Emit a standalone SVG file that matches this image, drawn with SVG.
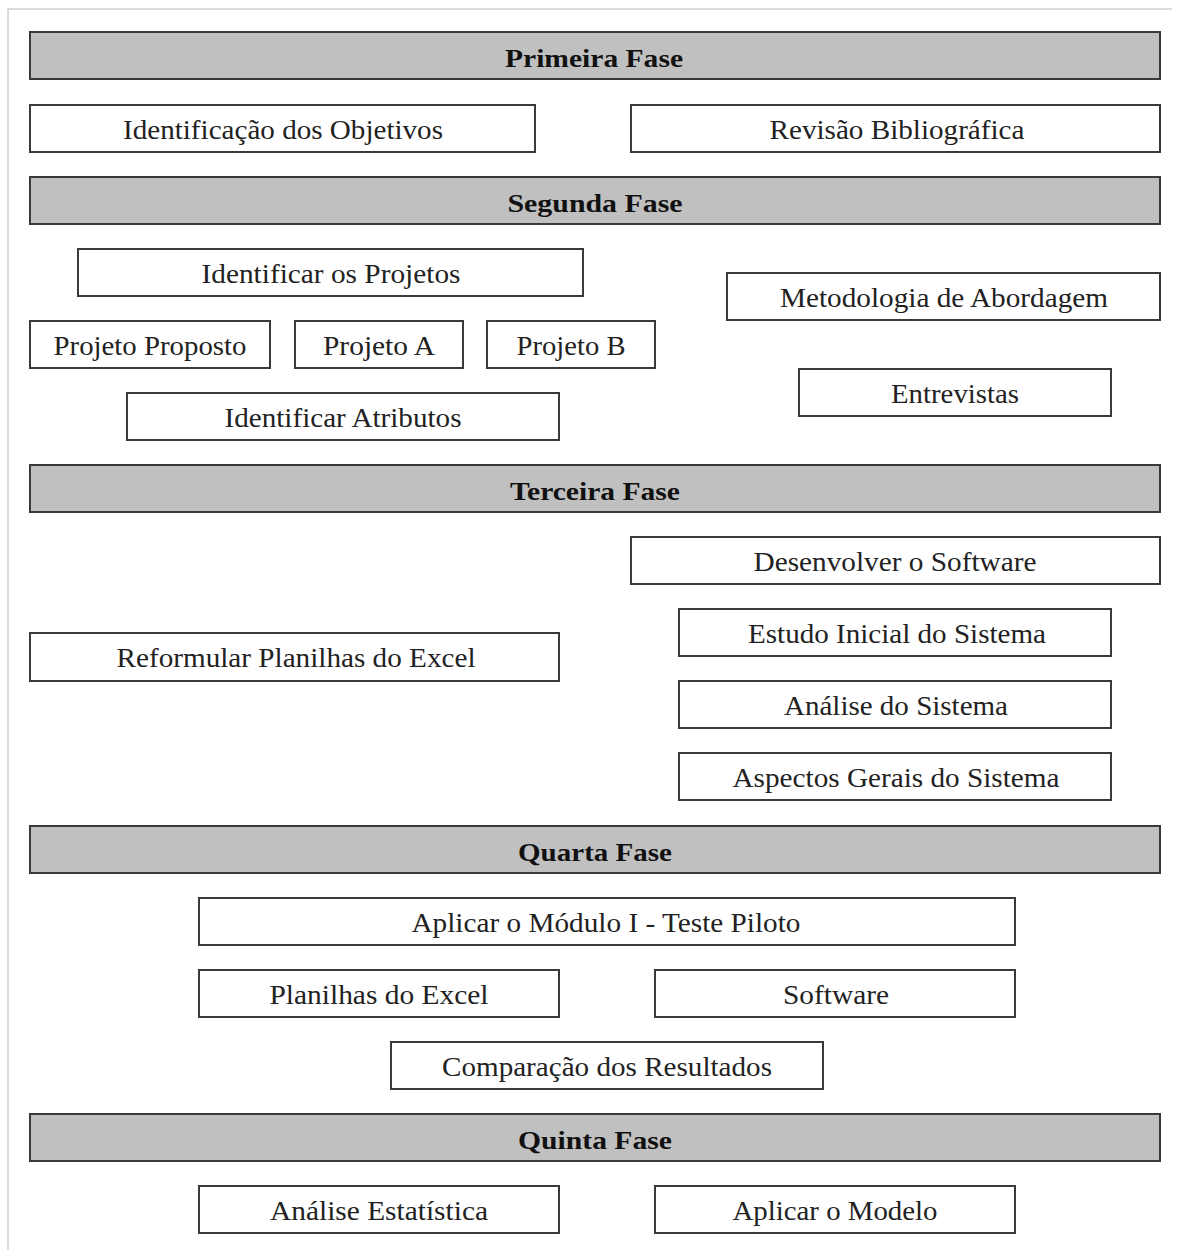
<svg xmlns="http://www.w3.org/2000/svg" width="1181" height="1250" viewBox="0 0 1181 1250">
  <style>
    .frame { stroke: #cfcfcf; stroke-width: 1.5; fill: none; }
    .phase { fill: #c0c0c0; stroke: #3a3a3a; stroke-width: 2; }
    .box { fill: #ffffff; stroke: #3a3a3a; stroke-width: 2; }
    .t { font-family: "Liberation Serif", "Times New Roman", serif; font-size: 27px; text-anchor: middle; fill: #222222; }
    .tb { font-weight: bold; fill: #111111; font-size: 26px; }
  </style>

  <rect width="1181" height="1250" fill="#ffffff"/>
  <!-- page frame -->
  <path class="frame" d="M8,1250 V9 H1172"/>

  <!-- Primeira Fase -->
  <g id="fase1">
    <rect class="phase" x="30" y="32" width="1130" height="47"/>
    <text class="t tb" x="594" y="67" textLength="178" lengthAdjust="spacingAndGlyphs">Primeira Fase</text>
  </g>
  <g id="identificacao-objetivos">
    <rect class="box" x="30" y="105" width="505" height="47"/>
    <text class="t" x="283" y="139" textLength="320" lengthAdjust="spacingAndGlyphs">Identificação dos Objetivos</text>
  </g>
  <g id="revisao-bibliografica">
    <rect class="box" x="631" y="105" width="529" height="47"/>
    <text class="t" x="897" y="139" textLength="255" lengthAdjust="spacingAndGlyphs">Revisão Bibliográfica</text>
  </g>

  <!-- Segunda Fase -->
  <g id="fase2">
    <rect class="phase" x="30" y="177" width="1130" height="47"/>
    <text class="t tb" x="595" y="212" textLength="175" lengthAdjust="spacingAndGlyphs">Segunda Fase</text>
  </g>
  <g id="identificar-projetos">
    <rect class="box" x="78" y="249" width="505" height="47"/>
    <text class="t" x="331" y="283" textLength="259" lengthAdjust="spacingAndGlyphs">Identificar os Projetos</text>
  </g>
  <g id="metodologia">
    <rect class="box" x="727" y="273" width="433" height="47"/>
    <text class="t" x="944" y="307" textLength="328" lengthAdjust="spacingAndGlyphs">Metodologia de Abordagem</text>
  </g>
  <g id="projeto-proposto">
    <rect class="box" x="30" y="321" width="240" height="47"/>
    <text class="t" x="150" y="355" textLength="193" lengthAdjust="spacingAndGlyphs">Projeto Proposto</text>
  </g>
  <g id="projeto-a">
    <rect class="box" x="295" y="321" width="168" height="47"/>
    <text class="t" x="379" y="355" textLength="112" lengthAdjust="spacingAndGlyphs">Projeto A</text>
  </g>
  <g id="projeto-b">
    <rect class="box" x="487" y="321" width="168" height="47"/>
    <text class="t" x="571" y="355" textLength="109" lengthAdjust="spacingAndGlyphs">Projeto B</text>
  </g>
  <g id="entrevistas">
    <rect class="box" x="799" y="369" width="312" height="47"/>
    <text class="t" x="955" y="403" textLength="128" lengthAdjust="spacingAndGlyphs">Entrevistas</text>
  </g>
  <g id="identificar-atributos">
    <rect class="box" x="127" y="393" width="432" height="47"/>
    <text class="t" x="343" y="427" textLength="237" lengthAdjust="spacingAndGlyphs">Identificar Atributos</text>
  </g>

  <!-- Terceira Fase -->
  <g id="fase3">
    <rect class="phase" x="30" y="465" width="1130" height="47"/>
    <text class="t tb" x="595" y="500" textLength="170" lengthAdjust="spacingAndGlyphs">Terceira Fase</text>
  </g>
  <g id="desenvolver-software">
    <rect class="box" x="631" y="537" width="529" height="47"/>
    <text class="t" x="895" y="571" textLength="283" lengthAdjust="spacingAndGlyphs">Desenvolver o Software</text>
  </g>
  <g id="estudo-inicial">
    <rect class="box" x="679" y="609" width="432" height="47"/>
    <text class="t" x="897" y="643" textLength="298" lengthAdjust="spacingAndGlyphs">Estudo Inicial do Sistema</text>
  </g>
  <g id="reformular-planilhas">
    <rect class="box" x="30" y="633" width="529" height="48"/>
    <text class="t" x="296" y="667" textLength="359" lengthAdjust="spacingAndGlyphs">Reformular Planilhas do Excel</text>
  </g>
  <g id="analise-sistema">
    <rect class="box" x="679" y="681" width="432" height="47"/>
    <text class="t" x="896" y="715" textLength="224" lengthAdjust="spacingAndGlyphs">Análise do Sistema</text>
  </g>
  <g id="aspectos-gerais">
    <rect class="box" x="679" y="753" width="432" height="47"/>
    <text class="t" x="896" y="787" textLength="327" lengthAdjust="spacingAndGlyphs">Aspectos Gerais do Sistema</text>
  </g>

  <!-- Quarta Fase -->
  <g id="fase4">
    <rect class="phase" x="30" y="826" width="1130" height="47"/>
    <text class="t tb" x="595" y="861" textLength="154" lengthAdjust="spacingAndGlyphs">Quarta Fase</text>
  </g>
  <g id="aplicar-modulo">
    <rect class="box" x="199" y="898" width="816" height="47"/>
    <text class="t" x="606" y="932" textLength="389" lengthAdjust="spacingAndGlyphs">Aplicar o Módulo I - Teste Piloto</text>
  </g>
  <g id="planilhas-excel">
    <rect class="box" x="199" y="970" width="360" height="47"/>
    <text class="t" x="379" y="1004" textLength="219" lengthAdjust="spacingAndGlyphs">Planilhas do Excel</text>
  </g>
  <g id="software">
    <rect class="box" x="655" y="970" width="360" height="47"/>
    <text class="t" x="836" y="1004" textLength="106" lengthAdjust="spacingAndGlyphs">Software</text>
  </g>
  <g id="comparacao-resultados">
    <rect class="box" x="391" y="1042" width="432" height="47"/>
    <text class="t" x="607" y="1076" textLength="330" lengthAdjust="spacingAndGlyphs">Comparação dos Resultados</text>
  </g>

  <!-- Quinta Fase -->
  <g id="fase5">
    <rect class="phase" x="30" y="1114" width="1130" height="47"/>
    <text class="t tb" x="595" y="1149" textLength="154" lengthAdjust="spacingAndGlyphs">Quinta Fase</text>
  </g>
  <g id="analise-estatistica">
    <rect class="box" x="199" y="1186" width="360" height="47"/>
    <text class="t" x="379" y="1220" textLength="218" lengthAdjust="spacingAndGlyphs">Análise Estatística</text>
  </g>
  <g id="aplicar-modelo">
    <rect class="box" x="655" y="1186" width="360" height="47"/>
    <text class="t" x="835" y="1220" textLength="205" lengthAdjust="spacingAndGlyphs">Aplicar o Modelo</text>
  </g>

  <!-- the phases are laid out as stacked blocks; no connectors are drawn -->
  <g id="connectors"/>
</svg>
